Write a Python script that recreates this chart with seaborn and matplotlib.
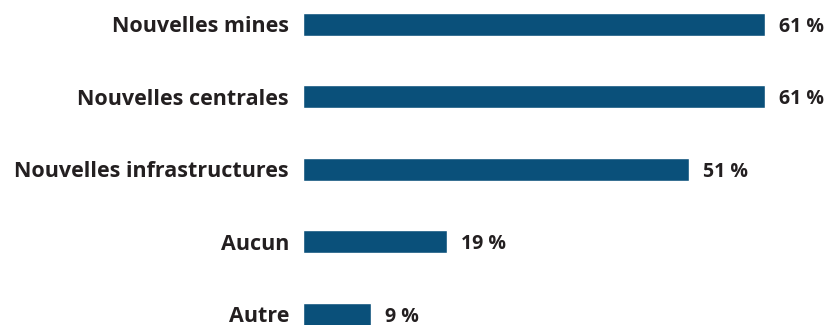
import matplotlib
matplotlib.use("Agg")
import matplotlib.pyplot as plt
import seaborn as sns
import pandas as pd

categories = ["Nouvelles mines", "Nouvelles centrales", "Nouvelles infrastructures", "Aucun", "Autre"]
values = [61, 61, 51, 19, 9]
value_labels = ["61 %", "61 %", "51 %", "19 %", "9 %"]

sns.set_style("white")
plt.rcParams["font.family"] = ["Open Sans", "DejaVu Sans"]

df = pd.DataFrame({"cat": categories, "val": values})

fig = plt.figure(figsize=(8.27, 3.25), dpi=100)
ax = fig.add_axes([303/827, 0, (818-303)/827, 1])
sns.barplot(data=df, y="cat", x="val", color="#0a507a", orient="h",
            width=0.317, saturation=1, ax=ax)
ax.set_xlim(0, 68)
ax.set_ylim(4.15, -0.338)
ax.set_xlabel("")
ax.set_ylabel("")
ax.set_xticks([])
for s in ax.spines.values():
    s.set_visible(False)
ax.tick_params(axis="y", length=0, pad=10, labelsize=15.5, labelcolor="#231f20")
for t in ax.get_yticklabels():
    t.set_fontweight("bold")
    t.set_verticalalignment("center_baseline")
txts = ax.bar_label(ax.containers[0], labels=value_labels, padding=10,
                    fontsize=14, fontweight="bold", color="#231f20")
for t in txts:
    t.set_verticalalignment("center_baseline")
fig.savefig("out.png", dpi=100)
